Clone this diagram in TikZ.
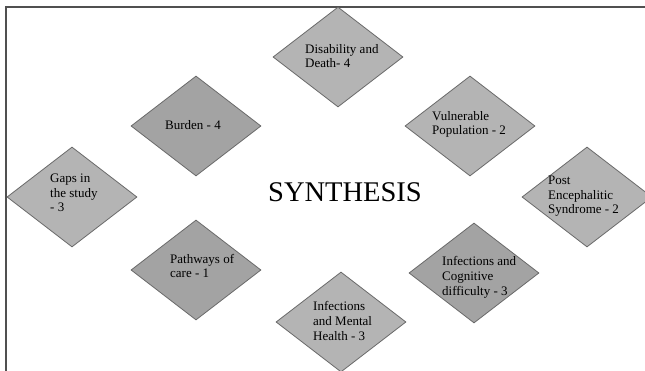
\documentclass[tikz,border=0pt]{standalone}
\usepackage{fontspec}
\setmainfont{Liberation Serif}
\usetikzlibrary{shapes.geometric}
\definecolor{lightfill}{HTML}{B4B4B4}
\definecolor{darkfill}{HTML}{A3A3A3}
\definecolor{edgegray}{HTML}{6A6A6A}
\definecolor{framegray}{HTML}{505050}
\begin{document}
\begin{tikzpicture}[x=1pt,y=-1pt,
  diam/.style={diamond, draw=edgegray, line width=0.8pt, fill=lightfill,
    minimum width=130pt, minimum height=100pt, inner sep=0pt},
  ddark/.style={diam, fill=darkfill},
  lbl/.style={anchor=base west, align=left, inner sep=0pt,
    font=\fontsize{13}{14.7}\selectfont, text=black},
]
\useasboundingbox (0,0) rectangle (645,371);
\clip (0,0) rectangle (645,371);
\fill[white] (0,0) rectangle (645,371);
\coordinate (ftr) at (645,7);
\coordinate (ftl) at (6,7);
\coordinate (fbl) at (6,371);
\draw[framegray, line width=1.5pt] (ftr) -- (ftl) -- (fbl);

\node[diam] (dis) at (338,57) {};
\node[ddark] (bur) at (196,126) {};
\node[diam] (vul) at (470,126) {};
\node[diam] (gap) at (72,197) {};
\node[diam] (pes) at (587,197) {};
\node[ddark] (pat) at (196,270) {};
\node[diam] (men) at (341,322) {};
\node[ddark] (cog) at (474,273) {};

\node[anchor=base, inner sep=0pt, font=\fontsize{28.5}{30}\selectfont] (syn) at (345,202) {SYNTHESIS};

% base anchor = baseline of the last line
\node[lbl] (tdis) at (305,68) {Disability and\\Death- 4};
\node[lbl] (tbur) at (165,130) {Burden - 4};
\node[lbl] (tvul) at (432,135) {Vulnerable\\Population - 2};
\node[lbl] (tgap) at (50,212) {Gaps in\\the study\\- 3};
\node[lbl] (tpes) at (548,214) {Post\\Encephalitic\\Syndrome - 2};
\node[lbl] (tpat) at (170,278) {Pathways of\\care - 1};
\node[lbl] (tmen) at (313,340) {Infections\\and Mental\\Health - 3};
\node[lbl] (tcog) at (442,295) {Infections and\\Cognitive\\difficulty - 3};
\end{tikzpicture}
\end{document}
